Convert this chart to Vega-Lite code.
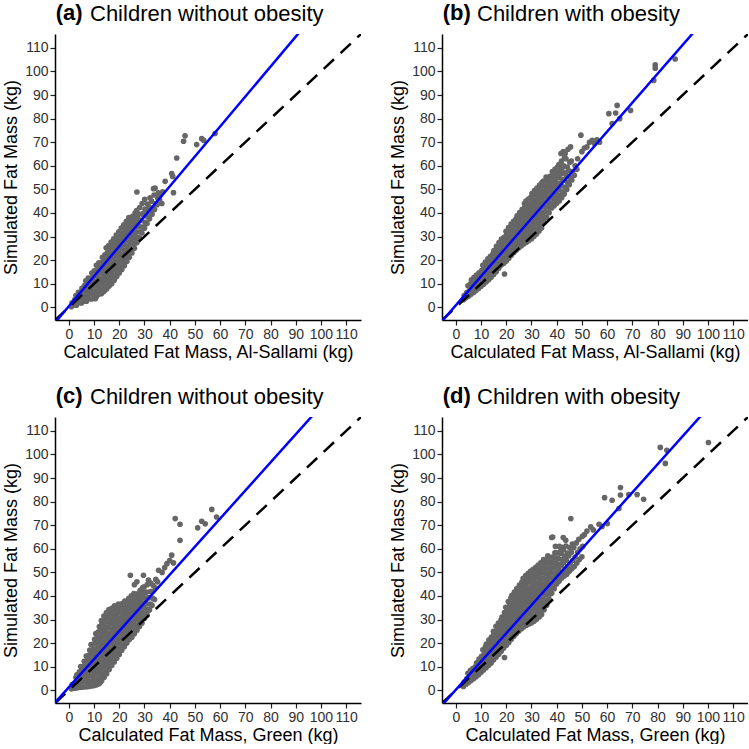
{
"$schema":"https://vega.github.io/schema/vega-lite/v6.json",
"background":"white",
"padding":{"left":2,"top":2,"right":0,"bottom":0},
"spacing":24,
"datasets":{
"idl":[{"x":-5.5,"y":-5.5},{"x":115.9,"y":115.9}],
"ra":[{"x":-5.5,"y":-6.54},{"x":100,"y":127.45}],
"rb":[{"x":-5.5,"y":-5.89},{"x":100,"y":123.56}],
"rc":[{"x":-5.5,"y":-5.28},{"x":100,"y":120.48}],
"rd":[{"x":-5.5,"y":-6.35},{"x":100,"y":119.72}],
"a":[
{"x":1,"y":0.2},{"x":1.3,"y":1.9},
{"x":2,"y":1.0},{"x":2.3,"y":3.2},
{"x":3,"y":0.9},{"x":3.3,"y":3.0},{"x":2.8,"y":5.0},
{"x":4,"y":1.9},{"x":4.3,"y":4.1},{"x":3.8,"y":6.3},
{"x":5,"y":1.8},{"x":5.3,"y":4.0},{"x":4.8,"y":6.2},{"x":5.2,"y":8.0},
{"x":6,"y":2.6},{"x":6.3,"y":4.8},{"x":5.8,"y":7.0},{"x":6.2,"y":9.2},
{"x":7,"y":2.6},{"x":7.3,"y":4.8},{"x":6.8,"y":7.0},{"x":7.2,"y":9.2},{"x":6.7,"y":11.2},
{"x":8,"y":3.6},{"x":8.3,"y":5.8},{"x":7.8,"y":8.0},{"x":8.2,"y":10.2},{"x":7.7,"y":12.4},
{"x":9,"y":3.5},{"x":9.3,"y":5.7},{"x":8.8,"y":7.9},{"x":9.2,"y":10.1},{"x":8.7,"y":12.3},{"x":9.1,"y":14.5},
{"x":10,"y":4.5},{"x":10.3,"y":6.7},{"x":9.8,"y":8.9},{"x":10.2,"y":11.1},{"x":9.7,"y":13.3},{"x":10.1,"y":15.5},{"x":10.5,"y":3.6},
{"x":11,"y":4.6},{"x":11.3,"y":6.8},{"x":10.8,"y":9.0},{"x":11.2,"y":11.2},{"x":10.7,"y":13.4},{"x":11.1,"y":15.6},{"x":10.9,"y":17.8},
{"x":12,"y":5.6},{"x":12.3,"y":7.8},{"x":11.8,"y":10.0},{"x":12.2,"y":12.2},{"x":11.7,"y":14.4},{"x":12.1,"y":16.6},{"x":11.9,"y":18.8},
{"x":13,"y":5.8},{"x":13.3,"y":8.0},{"x":12.8,"y":10.2},{"x":13.2,"y":12.4},{"x":12.7,"y":14.6},{"x":13.1,"y":16.8},{"x":12.9,"y":19.0},{"x":13.3,"y":21.2},
{"x":14,"y":6.8},{"x":14.3,"y":9.0},{"x":13.8,"y":11.2},{"x":14.2,"y":13.4},{"x":13.7,"y":15.6},{"x":14.1,"y":17.8},{"x":13.9,"y":20.0},{"x":14.3,"y":22.2},
{"x":15,"y":7.8},{"x":15.3,"y":10.0},{"x":14.8,"y":12.2},{"x":15.2,"y":14.4},{"x":14.7,"y":16.6},{"x":15.1,"y":18.8},{"x":14.9,"y":21.0},{"x":15.3,"y":23.2},{"x":14.8,"y":25.2},
{"x":16,"y":9.0},{"x":16.3,"y":11.2},{"x":15.8,"y":13.4},{"x":16.2,"y":15.6},{"x":15.7,"y":17.8},{"x":16.1,"y":20.0},{"x":15.9,"y":22.2},{"x":16.3,"y":24.4},{"x":15.8,"y":26.2},
{"x":17,"y":10.0},{"x":17.3,"y":12.2},{"x":16.8,"y":14.4},{"x":17.2,"y":16.6},{"x":16.7,"y":18.8},{"x":17.1,"y":21.0},{"x":16.9,"y":23.2},{"x":17.3,"y":25.4},{"x":16.8,"y":27.6},
{"x":18,"y":11.5},{"x":18.3,"y":13.7},{"x":17.8,"y":15.9},{"x":18.2,"y":18.1},{"x":17.7,"y":20.3},{"x":18.1,"y":22.5},{"x":17.9,"y":24.7},{"x":18.3,"y":26.9},{"x":17.8,"y":29.0},
{"x":19,"y":13.0},{"x":19.3,"y":15.2},{"x":18.8,"y":17.4},{"x":19.2,"y":19.6},{"x":18.7,"y":21.8},{"x":19.1,"y":24.0},{"x":18.9,"y":26.2},{"x":19.3,"y":28.4},{"x":18.8,"y":30.6},
{"x":20,"y":14.5},{"x":20.3,"y":16.7},{"x":19.8,"y":18.9},{"x":20.2,"y":21.1},{"x":19.7,"y":23.3},{"x":20.1,"y":25.5},{"x":19.9,"y":27.7},{"x":20.3,"y":29.9},{"x":19.8,"y":32.0},
{"x":21,"y":16.0},{"x":21.3,"y":18.2},{"x":20.8,"y":20.4},{"x":21.2,"y":22.6},{"x":20.7,"y":24.8},{"x":21.1,"y":27.0},{"x":20.9,"y":29.2},{"x":21.3,"y":31.4},{"x":20.8,"y":33.6},
{"x":22,"y":17.6},{"x":22.3,"y":19.8},{"x":21.8,"y":22.0},{"x":22.2,"y":24.2},{"x":21.7,"y":26.4},{"x":22.1,"y":28.6},{"x":21.9,"y":30.8},{"x":22.3,"y":33.0},{"x":21.8,"y":35.0},
{"x":23,"y":19.4},{"x":23.3,"y":21.6},{"x":22.8,"y":23.8},{"x":23.2,"y":26.0},{"x":22.7,"y":28.2},{"x":23.1,"y":30.4},{"x":22.9,"y":32.6},{"x":23.3,"y":34.8},{"x":22.8,"y":36.5},
{"x":24,"y":21.2},{"x":24.3,"y":23.4},{"x":23.8,"y":25.6},{"x":24.2,"y":27.8},{"x":23.7,"y":30.0},{"x":24.1,"y":32.2},{"x":23.9,"y":34.4},{"x":24.3,"y":36.6},{"x":23.8,"y":38.0},
{"x":25,"y":23.0},{"x":25.3,"y":25.2},{"x":24.8,"y":27.4},{"x":25.2,"y":29.6},{"x":24.7,"y":31.8},{"x":25.1,"y":34.0},{"x":24.9,"y":36.2},{"x":25.3,"y":38.6},
{"x":26,"y":25.0},{"x":26.3,"y":27.2},{"x":25.8,"y":29.4},{"x":26.2,"y":31.6},{"x":25.7,"y":33.8},{"x":26.1,"y":36.0},{"x":25.9,"y":38.2},{"x":26.3,"y":40.0},
{"x":27,"y":27.5},{"x":27.3,"y":29.7},{"x":26.8,"y":31.9},{"x":27.2,"y":34.1},{"x":26.7,"y":36.3},{"x":27.1,"y":38.5},{"x":26.9,"y":41.0},{"x":27,"y":48.9},
{"x":28,"y":29.5},{"x":28.3,"y":32.0},{"x":27.8,"y":34.5},{"x":28.2,"y":37.0},{"x":27.7,"y":39.5},{"x":28.1,"y":42.3},
{"x":29,"y":31.5},{"x":29.3,"y":34.0},{"x":28.8,"y":36.8},{"x":29.2,"y":39.6},{"x":29.1,"y":44.0},
{"x":30,"y":33.5},{"x":30.3,"y":36.0},{"x":29.8,"y":38.8},{"x":30.2,"y":41.6},{"x":30.1,"y":45.8},
{"x":31,"y":35.5},{"x":31.3,"y":38.4},{"x":30.8,"y":41.2},{"x":31.2,"y":43.8},
{"x":32,"y":37.5},{"x":32.3,"y":40.5},{"x":31.8,"y":42.6},{"x":32.2,"y":46.4},
{"x":33,"y":39.5},{"x":33.3,"y":42.0},{"x":32.8,"y":45.0},{"x":33.6,"y":50.3},
{"x":34,"y":41.5},{"x":34.3,"y":44.0},{"x":33.8,"y":47.6},{"x":34.2,"y":50.5},
{"x":35,"y":43.5},{"x":35.3,"y":46.2},{"x":35.5,"y":48.5},
{"x":36,"y":45.5},{"x":36.2,"y":47.5},{"x":36.9,"y":44},{"x":37.2,"y":49},
{"x":38.2,"y":53.4},{"x":40.8,"y":56.7},{"x":41.2,"y":55.5},{"x":41.5,"y":48.6},{"x":42.8,"y":63.3},{"x":45.5,"y":70.4},{"x":46.1,"y":72.7},{"x":50.7,"y":69},{"x":52.7,"y":71.5},{"x":53.5,"y":70.8},{"x":58,"y":73.7}
],
"b":[
{"x":3,"y":3.2},{"x":3.3,"y":5.0},
{"x":4,"y":4.0},{"x":4.3,"y":6.2},
{"x":5,"y":4.7},{"x":5.3,"y":6.9},{"x":4.8,"y":9.1},
{"x":6,"y":5.5},{"x":6.3,"y":7.7},{"x":5.8,"y":9.9},{"x":6.2,"y":11.6},
{"x":7,"y":6.3},{"x":7.3,"y":8.5},{"x":6.8,"y":10.7},{"x":7.2,"y":12.7},
{"x":8,"y":7.1},{"x":8.3,"y":9.3},{"x":7.8,"y":11.5},{"x":8.2,"y":13.7},
{"x":9,"y":8.0},{"x":9.3,"y":10.2},{"x":8.8,"y":12.4},{"x":9.2,"y":14.6},
{"x":10,"y":8.9},{"x":10.3,"y":11.1},{"x":9.8,"y":13.3},{"x":10.2,"y":15.6},
{"x":11,"y":9.8},{"x":11.3,"y":12.0},{"x":10.8,"y":14.2},{"x":11.2,"y":16.4},{"x":10.7,"y":17.8},
{"x":12,"y":10.7},{"x":12.3,"y":12.9},{"x":11.8,"y":15.1},{"x":12.2,"y":17.3},{"x":11.7,"y":19.2},
{"x":13,"y":11.7},{"x":13.3,"y":13.9},{"x":12.8,"y":16.1},{"x":13.2,"y":18.3},{"x":12.7,"y":20.5},
{"x":14,"y":12.7},{"x":14.3,"y":14.9},{"x":13.8,"y":17.1},{"x":14.2,"y":19.3},{"x":13.7,"y":21.6},
{"x":15,"y":13.9},{"x":15.3,"y":16.1},{"x":14.8,"y":18.3},{"x":15.2,"y":20.5},{"x":14.7,"y":22.7},{"x":15.1,"y":24.0},
{"x":16,"y":15.1},{"x":16.3,"y":17.3},{"x":15.8,"y":19.5},{"x":16.2,"y":21.7},{"x":15.7,"y":23.9},{"x":16.1,"y":25.8},
{"x":17,"y":16.5},{"x":17.3,"y":18.7},{"x":16.8,"y":20.9},{"x":17.2,"y":23.1},{"x":16.7,"y":25.3},{"x":17.1,"y":27.4},
{"x":18,"y":17.9},{"x":18.3,"y":20.1},{"x":17.8,"y":22.3},{"x":18.2,"y":24.5},{"x":17.7,"y":26.7},{"x":18.1,"y":28.9},
{"x":19,"y":18.7},{"x":19.3,"y":20.9},{"x":18.8,"y":23.1},{"x":19.2,"y":25.3},{"x":18.7,"y":27.5},{"x":19.1,"y":29.7},{"x":19.3,"y":14.1},
{"x":20,"y":19.6},{"x":20.3,"y":21.8},{"x":19.8,"y":24.0},{"x":20.2,"y":26.2},{"x":19.7,"y":28.4},{"x":20.1,"y":30.6},{"x":19.9,"y":32.2},
{"x":21,"y":20.8},{"x":21.3,"y":23.0},{"x":20.8,"y":25.2},{"x":21.2,"y":27.4},{"x":20.7,"y":29.6},{"x":21.1,"y":31.8},{"x":20.9,"y":33.8},
{"x":22,"y":22.1},{"x":22.3,"y":24.3},{"x":21.8,"y":26.5},{"x":22.2,"y":28.7},{"x":21.7,"y":30.9},{"x":22.1,"y":33.1},{"x":21.9,"y":35.3},
{"x":23,"y":23.2},{"x":23.3,"y":25.4},{"x":22.8,"y":27.6},{"x":23.2,"y":29.8},{"x":22.7,"y":32.0},{"x":23.1,"y":34.2},{"x":22.9,"y":36.4},
{"x":24,"y":24.3},{"x":24.3,"y":26.5},{"x":23.8,"y":28.7},{"x":24.2,"y":30.9},{"x":23.7,"y":33.1},{"x":24.1,"y":35.3},{"x":23.9,"y":37.5},{"x":24.3,"y":38.8},
{"x":25,"y":25.2},{"x":25.3,"y":27.4},{"x":24.8,"y":29.6},{"x":25.2,"y":31.8},{"x":24.7,"y":34.0},{"x":25.1,"y":36.2},{"x":24.9,"y":38.4},{"x":25.3,"y":40.2},
{"x":26,"y":26.1},{"x":26.3,"y":28.3},{"x":25.8,"y":30.5},{"x":26.2,"y":32.7},{"x":25.7,"y":34.9},{"x":26.1,"y":37.1},{"x":25.9,"y":39.3},{"x":26.3,"y":41.5},
{"x":27,"y":26.9},{"x":27.3,"y":29.1},{"x":26.8,"y":31.3},{"x":27.2,"y":33.5},{"x":26.7,"y":35.7},{"x":27.1,"y":37.9},{"x":26.9,"y":40.1},{"x":27.3,"y":42.3},{"x":27.2,"y":44.0},
{"x":28,"y":27.6},{"x":28.3,"y":29.8},{"x":27.8,"y":32.0},{"x":28.2,"y":34.2},{"x":27.7,"y":36.4},{"x":28.1,"y":38.6},{"x":27.9,"y":40.8},{"x":28.3,"y":43.0},{"x":27.8,"y":45.0},
{"x":29,"y":28.3},{"x":29.3,"y":30.5},{"x":28.8,"y":32.7},{"x":29.2,"y":34.9},{"x":28.7,"y":37.1},{"x":29.1,"y":39.3},{"x":28.9,"y":41.5},{"x":29.3,"y":43.7},{"x":28.8,"y":45.9},
{"x":30,"y":29.1},{"x":30.3,"y":31.3},{"x":29.8,"y":33.5},{"x":30.2,"y":35.7},{"x":29.7,"y":37.9},{"x":30.1,"y":40.1},{"x":29.9,"y":42.3},{"x":30.3,"y":44.5},{"x":29.8,"y":46.7},{"x":30.2,"y":48.2},
{"x":31,"y":30.1},{"x":31.3,"y":32.3},{"x":30.8,"y":34.5},{"x":31.2,"y":36.7},{"x":30.7,"y":38.9},{"x":31.1,"y":41.1},{"x":30.9,"y":43.3},{"x":31.3,"y":45.5},{"x":30.8,"y":47.7},{"x":31.2,"y":49.5},
{"x":32,"y":31.1},{"x":32.3,"y":33.3},{"x":31.8,"y":35.5},{"x":32.2,"y":37.7},{"x":31.7,"y":39.9},{"x":32.1,"y":42.1},{"x":31.9,"y":44.3},{"x":32.3,"y":46.5},{"x":31.8,"y":48.7},{"x":32.2,"y":50.6},
{"x":33,"y":32.3},{"x":33.3,"y":34.5},{"x":32.8,"y":36.7},{"x":33.2,"y":38.9},{"x":32.7,"y":41.1},{"x":33.1,"y":43.3},{"x":32.9,"y":45.5},{"x":33.3,"y":47.7},{"x":32.8,"y":49.9},{"x":33.2,"y":51.8},
{"x":34,"y":33.6},{"x":34.3,"y":35.8},{"x":33.8,"y":38.0},{"x":34.2,"y":40.2},{"x":33.7,"y":42.4},{"x":34.1,"y":44.6},{"x":33.9,"y":46.8},{"x":34.3,"y":49.0},{"x":33.8,"y":51.2},{"x":34.2,"y":53.0},
{"x":35,"y":35.9},{"x":35.3,"y":38.1},{"x":34.8,"y":40.3},{"x":35.2,"y":42.5},{"x":34.7,"y":44.7},{"x":35.1,"y":46.9},{"x":34.9,"y":49.1},{"x":35.3,"y":51.3},{"x":34.8,"y":53.5},
{"x":36,"y":38.1},{"x":36.3,"y":40.3},{"x":35.8,"y":42.5},{"x":36.2,"y":44.7},{"x":35.7,"y":46.9},{"x":36.1,"y":49.1},{"x":35.9,"y":51.3},{"x":36.3,"y":53.5},{"x":35.8,"y":55.2},
{"x":37,"y":40.1},{"x":37.3,"y":42.3},{"x":36.8,"y":44.5},{"x":37.2,"y":46.7},{"x":36.7,"y":48.9},{"x":37.1,"y":51.1},{"x":36.9,"y":53.3},{"x":37.3,"y":55.5},
{"x":38,"y":42.1},{"x":38.3,"y":44.3},{"x":37.8,"y":46.5},{"x":38.2,"y":48.7},{"x":37.7,"y":50.9},{"x":38.1,"y":53.1},{"x":37.9,"y":55.3},{"x":38.3,"y":57.5},
{"x":39,"y":43.1},{"x":39.3,"y":45.3},{"x":38.8,"y":47.5},{"x":39.2,"y":49.7},{"x":38.7,"y":51.9},{"x":39.1,"y":54.1},{"x":38.9,"y":56.3},{"x":39.3,"y":58.5},
{"x":40,"y":44.1},{"x":40.3,"y":46.3},{"x":39.8,"y":48.5},{"x":40.2,"y":50.7},{"x":39.7,"y":52.9},{"x":40.1,"y":55.1},{"x":39.9,"y":57.3},{"x":40.3,"y":59.5},
{"x":41,"y":45.1},{"x":41.3,"y":47.5},{"x":40.8,"y":50.0},{"x":41.2,"y":52.5},{"x":40.7,"y":55.0},{"x":41.1,"y":57.5},{"x":40.9,"y":60.5},{"x":41.7,"y":65.2},
{"x":42,"y":46.5},{"x":42.3,"y":49.0},{"x":41.8,"y":51.5},{"x":42.2,"y":54.0},{"x":41.7,"y":56.5},{"x":42.1,"y":59.0},{"x":41.9,"y":62.0},{"x":42.6,"y":66.0},
{"x":43,"y":48.0},{"x":43.3,"y":51.0},{"x":42.8,"y":54.0},{"x":43.2,"y":57.0},{"x":42.7,"y":60.0},{"x":43.1,"y":63.5},{"x":43.4,"y":65.2},
{"x":44,"y":50.0},{"x":44.3,"y":53.0},{"x":43.8,"y":56.0},{"x":44.2,"y":59.5},{"x":43.7,"y":63.0},{"x":44.5,"y":67.0},
{"x":45,"y":52.0},{"x":45.3,"y":55.0},{"x":44.8,"y":58.0},{"x":45.2,"y":61.5},{"x":45.5,"y":68.0},
{"x":46,"y":54.0},{"x":46.3,"y":57.5},{"x":45.8,"y":62.0},
{"x":47,"y":56.0},{"x":47.3,"y":60.0},{"x":48,"y":58.5},{"x":48.3,"y":63.0},
{"x":49.6,"y":73},{"x":50,"y":66},{"x":51,"y":67.5},{"x":52,"y":68},{"x":53,"y":70},{"x":54.1,"y":70.8},{"x":55,"y":69.5},{"x":56,"y":71},{"x":57,"y":70},{"x":60.7,"y":82.1},{"x":62,"y":77.9},{"x":63.4,"y":82.4},{"x":64,"y":85.6},{"x":65,"y":80},{"x":69.3,"y":83.5},{"x":78.5,"y":96.2},{"x":79.1,"y":101.4},{"x":79.1,"y":102.8},{"x":87,"y":105.3}
],
"c":[
{"x":1,"y":0.6},{"x":1.3,"y":2.4},
{"x":2,"y":0.9},{"x":2.3,"y":3.1},
{"x":3,"y":1.0},{"x":3.3,"y":3.2},{"x":2.8,"y":5.4},{"x":3.2,"y":6.6},
{"x":4,"y":1.2},{"x":4.3,"y":3.4},{"x":3.8,"y":5.6},{"x":4.2,"y":7.8},
{"x":5,"y":1.3},{"x":5.3,"y":3.5},{"x":4.8,"y":5.7},{"x":5.2,"y":7.9},{"x":4.7,"y":10.1},
{"x":6,"y":1.4},{"x":6.3,"y":3.6},{"x":5.8,"y":5.8},{"x":6.2,"y":8.0},{"x":5.7,"y":10.2},{"x":6.1,"y":12.3},
{"x":7,"y":1.5},{"x":7.3,"y":3.7},{"x":6.8,"y":5.9},{"x":7.2,"y":8.1},{"x":6.7,"y":10.3},{"x":7.1,"y":12.5},{"x":6.9,"y":14.5},
{"x":8,"y":1.6},{"x":8.3,"y":3.8},{"x":7.8,"y":6.0},{"x":8.2,"y":8.2},{"x":7.7,"y":10.4},{"x":8.1,"y":12.6},{"x":7.9,"y":14.8},{"x":8.3,"y":17.0},
{"x":9,"y":1.8},{"x":9.3,"y":4.0},{"x":8.8,"y":6.2},{"x":9.2,"y":8.4},{"x":8.7,"y":10.6},{"x":9.1,"y":12.8},{"x":8.9,"y":15.0},{"x":9.3,"y":17.2},{"x":8.8,"y":19.4},
{"x":10,"y":2.0},{"x":10.3,"y":4.2},{"x":9.8,"y":6.4},{"x":10.2,"y":8.6},{"x":9.7,"y":10.8},{"x":10.1,"y":13.0},{"x":9.9,"y":15.2},{"x":10.3,"y":17.4},{"x":9.8,"y":19.6},{"x":10.2,"y":21.6},
{"x":11,"y":2.3},{"x":11.3,"y":4.5},{"x":10.8,"y":6.7},{"x":11.2,"y":8.9},{"x":10.7,"y":11.1},{"x":11.1,"y":13.3},{"x":10.9,"y":15.5},{"x":11.3,"y":17.7},{"x":10.8,"y":19.9},{"x":11.2,"y":22.1},{"x":10.7,"y":24.0},
{"x":12,"y":2.8},{"x":12.3,"y":5.0},{"x":11.8,"y":7.2},{"x":12.2,"y":9.4},{"x":11.7,"y":11.6},{"x":12.1,"y":13.8},{"x":11.9,"y":16.0},{"x":12.3,"y":18.2},{"x":11.8,"y":20.4},{"x":12.2,"y":22.6},{"x":11.7,"y":24.8},{"x":12.1,"y":27.0},{"x":12.6,"y":3.5},
{"x":13,"y":4.0},{"x":13.3,"y":6.2},{"x":12.8,"y":8.4},{"x":13.2,"y":10.6},{"x":12.7,"y":12.8},{"x":13.1,"y":15.0},{"x":12.9,"y":17.2},{"x":13.3,"y":19.4},{"x":12.8,"y":21.6},{"x":13.2,"y":23.8},{"x":12.7,"y":26.0},{"x":13.1,"y":28.2},{"x":12.9,"y":29.6},
{"x":14,"y":5.5},{"x":14.3,"y":7.7},{"x":13.8,"y":9.9},{"x":14.2,"y":12.1},{"x":13.7,"y":14.3},{"x":14.1,"y":16.5},{"x":13.9,"y":18.7},{"x":14.3,"y":20.9},{"x":13.8,"y":23.1},{"x":14.2,"y":25.3},{"x":13.7,"y":27.5},{"x":14.1,"y":29.7},{"x":13.9,"y":31.5},
{"x":15,"y":7.0},{"x":15.3,"y":9.2},{"x":14.8,"y":11.4},{"x":15.2,"y":13.6},{"x":14.7,"y":15.8},{"x":15.1,"y":18.0},{"x":14.9,"y":20.2},{"x":15.3,"y":22.4},{"x":14.8,"y":24.6},{"x":15.2,"y":26.8},{"x":14.7,"y":29.0},{"x":15.1,"y":31.2},{"x":14.9,"y":33.0},
{"x":16,"y":8.8},{"x":16.3,"y":11.0},{"x":15.8,"y":13.2},{"x":16.2,"y":15.4},{"x":15.7,"y":17.6},{"x":16.1,"y":19.8},{"x":15.9,"y":22.0},{"x":16.3,"y":24.2},{"x":15.8,"y":26.4},{"x":16.2,"y":28.6},{"x":15.7,"y":30.8},{"x":16.1,"y":33.0},{"x":15.9,"y":34.2},
{"x":17,"y":10.5},{"x":17.3,"y":12.7},{"x":16.8,"y":14.9},{"x":17.2,"y":17.1},{"x":16.7,"y":19.3},{"x":17.1,"y":21.5},{"x":16.9,"y":23.7},{"x":17.3,"y":25.9},{"x":16.8,"y":28.1},{"x":17.2,"y":30.3},{"x":16.7,"y":32.5},{"x":17.1,"y":34.7},
{"x":18,"y":12.0},{"x":18.3,"y":14.2},{"x":17.8,"y":16.4},{"x":18.2,"y":18.6},{"x":17.7,"y":20.8},{"x":18.1,"y":23.0},{"x":17.9,"y":25.2},{"x":18.3,"y":27.4},{"x":17.8,"y":29.6},{"x":18.2,"y":31.8},{"x":17.7,"y":34.0},{"x":18.1,"y":35.8},
{"x":19,"y":13.6},{"x":19.3,"y":15.8},{"x":18.8,"y":18.0},{"x":19.2,"y":20.2},{"x":18.7,"y":22.4},{"x":19.1,"y":24.6},{"x":18.9,"y":26.8},{"x":19.3,"y":29.0},{"x":18.8,"y":31.2},{"x":19.2,"y":33.4},{"x":18.7,"y":35.6},
{"x":20,"y":15.2},{"x":20.3,"y":17.4},{"x":19.8,"y":19.6},{"x":20.2,"y":21.8},{"x":19.7,"y":24.0},{"x":20.1,"y":26.2},{"x":19.9,"y":28.4},{"x":20.3,"y":30.6},{"x":19.8,"y":32.8},{"x":20.2,"y":35.0},{"x":19.7,"y":36.6},
{"x":21,"y":17.0},{"x":21.3,"y":19.2},{"x":20.8,"y":21.4},{"x":21.2,"y":23.6},{"x":20.7,"y":25.8},{"x":21.1,"y":28.0},{"x":20.9,"y":30.2},{"x":21.3,"y":32.4},{"x":20.8,"y":34.6},{"x":21.2,"y":36.8},
{"x":22,"y":18.5},{"x":22.3,"y":20.7},{"x":21.8,"y":22.9},{"x":22.2,"y":25.1},{"x":21.7,"y":27.3},{"x":22.1,"y":29.5},{"x":21.9,"y":31.7},{"x":22.3,"y":33.9},{"x":21.8,"y":36.1},{"x":22.2,"y":37.8},
{"x":23,"y":20.0},{"x":23.3,"y":22.2},{"x":22.8,"y":24.4},{"x":23.2,"y":26.6},{"x":22.7,"y":28.8},{"x":23.1,"y":31.0},{"x":22.9,"y":33.2},{"x":23.3,"y":35.4},{"x":22.8,"y":37.6},
{"x":24,"y":21.5},{"x":24.3,"y":23.7},{"x":23.8,"y":25.9},{"x":24.2,"y":28.1},{"x":23.7,"y":30.3},{"x":24.1,"y":32.5},{"x":23.9,"y":34.7},{"x":24.3,"y":36.9},{"x":23.8,"y":39.0},{"x":24.4,"y":48.8},
{"x":25,"y":22.5},{"x":25.3,"y":24.7},{"x":24.8,"y":26.9},{"x":25.2,"y":29.1},{"x":24.7,"y":31.3},{"x":25.1,"y":33.5},{"x":24.9,"y":35.7},{"x":25.3,"y":37.9},{"x":24.8,"y":40.1},
{"x":26,"y":24.0},{"x":26.3,"y":26.2},{"x":25.8,"y":28.4},{"x":26.2,"y":30.6},{"x":25.7,"y":32.8},{"x":26.1,"y":35.0},{"x":25.9,"y":37.2},{"x":26.3,"y":39.4},{"x":25.8,"y":41.0},{"x":26,"y":44.8},
{"x":27,"y":25.5},{"x":27.3,"y":27.7},{"x":26.8,"y":29.9},{"x":27.2,"y":32.1},{"x":26.7,"y":34.3},{"x":27.1,"y":36.5},{"x":26.9,"y":38.7},{"x":27.3,"y":40.9},{"x":27,"y":46},
{"x":28,"y":27.0},{"x":28.3,"y":29.2},{"x":27.8,"y":31.4},{"x":28.2,"y":33.6},{"x":27.7,"y":35.8},{"x":28.1,"y":38.0},{"x":27.9,"y":40.2},{"x":28.3,"y":42.4},
{"x":29,"y":28.5},{"x":29.3,"y":30.7},{"x":28.8,"y":32.9},{"x":29.2,"y":35.1},{"x":28.7,"y":37.3},{"x":29.1,"y":39.5},{"x":28.9,"y":41.7},{"x":29.3,"y":43.6},{"x":29.6,"y":48.8},
{"x":30,"y":30.5},{"x":30.3,"y":32.7},{"x":29.8,"y":34.9},{"x":30.2,"y":37.1},{"x":29.7,"y":39.3},{"x":30.1,"y":41.5},{"x":29.9,"y":43.9},
{"x":31,"y":32.0},{"x":31.3,"y":34.4},{"x":30.8,"y":36.8},{"x":31.2,"y":39.2},{"x":30.7,"y":41.6},{"x":31.1,"y":44.8},{"x":31.6,"y":46.7},
{"x":32,"y":34.0},{"x":32.3,"y":36.6},{"x":31.8,"y":39.2},{"x":32.2,"y":41.8},{"x":32.5,"y":45.5},
{"x":33,"y":36.0},{"x":33.3,"y":39.0},{"x":32.8,"y":42.0},{"x":33.4,"y":44.5},
{"x":34,"y":38.5},{"x":34.3,"y":43.5},{"x":34.5,"y":47.0},
{"x":35.2,"y":46},{"x":35.6,"y":50.9},{"x":37,"y":50},{"x":38,"y":52},{"x":38.9,"y":53.7},{"x":40,"y":55},{"x":40.8,"y":57.3},{"x":41.5,"y":54},{"x":44.1,"y":63.6},{"x":42.2,"y":72.8},{"x":44.1,"y":70.4},{"x":51.1,"y":68.9},{"x":52.7,"y":71.7},{"x":54.1,"y":70.6},{"x":56.7,"y":76.7},{"x":58.6,"y":73.5}
],
"d":[
{"x":3,"y":1.6},{"x":3.3,"y":3.5},
{"x":4,"y":2.6},{"x":4.3,"y":4.8},
{"x":5,"y":3.3},{"x":5.3,"y":5.5},{"x":4.8,"y":7.2},
{"x":6,"y":4.1},{"x":6.3,"y":6.3},{"x":5.8,"y":8.5},
{"x":7,"y":4.9},{"x":7.3,"y":7.1},{"x":6.8,"y":9.3},
{"x":8,"y":5.7},{"x":8.3,"y":7.9},{"x":7.8,"y":10.1},{"x":8.2,"y":11.6},
{"x":9,"y":6.6},{"x":9.3,"y":8.8},{"x":8.8,"y":11.0},{"x":9.2,"y":13.2},
{"x":10,"y":7.6},{"x":10.3,"y":9.8},{"x":9.8,"y":12.0},{"x":10.2,"y":14.4},
{"x":11,"y":8.6},{"x":11.3,"y":10.8},{"x":10.8,"y":13.0},{"x":11.2,"y":15.2},{"x":10.7,"y":17.2},
{"x":12,"y":9.6},{"x":12.3,"y":11.8},{"x":11.8,"y":14.0},{"x":12.2,"y":16.2},{"x":11.7,"y":18.4},{"x":12.1,"y":19.6},
{"x":13,"y":10.6},{"x":13.3,"y":12.8},{"x":12.8,"y":15.0},{"x":13.2,"y":17.2},{"x":12.7,"y":19.4},{"x":13.1,"y":21.3},
{"x":14,"y":11.6},{"x":14.3,"y":13.8},{"x":13.8,"y":16.0},{"x":14.2,"y":18.2},{"x":13.7,"y":20.4},{"x":14.1,"y":22.6},
{"x":15,"y":12.9},{"x":15.3,"y":15.1},{"x":14.8,"y":17.3},{"x":15.2,"y":19.5},{"x":14.7,"y":21.7},{"x":15.1,"y":23.9},{"x":14.9,"y":25.0},
{"x":16,"y":14.1},{"x":16.3,"y":16.3},{"x":15.8,"y":18.5},{"x":16.2,"y":20.7},{"x":15.7,"y":22.9},{"x":16.1,"y":25.1},{"x":15.9,"y":27.1},
{"x":17,"y":15.3},{"x":17.3,"y":17.5},{"x":16.8,"y":19.7},{"x":17.2,"y":21.9},{"x":16.7,"y":24.1},{"x":17.1,"y":26.3},{"x":16.9,"y":28.5},
{"x":18,"y":16.6},{"x":18.3,"y":18.8},{"x":17.8,"y":21.0},{"x":18.2,"y":23.2},{"x":17.7,"y":25.4},{"x":18.1,"y":27.6},{"x":17.9,"y":29.8},{"x":18.3,"y":31.0},
{"x":19,"y":17.9},{"x":19.3,"y":20.1},{"x":18.8,"y":22.3},{"x":19.2,"y":24.5},{"x":18.7,"y":26.7},{"x":19.1,"y":28.9},{"x":18.9,"y":31.1},{"x":19.3,"y":33.0},{"x":19.3,"y":13.9},
{"x":20,"y":19.1},{"x":20.3,"y":21.3},{"x":19.8,"y":23.5},{"x":20.2,"y":25.7},{"x":19.7,"y":27.9},{"x":20.1,"y":30.1},{"x":19.9,"y":32.3},{"x":20.3,"y":34.5},{"x":19.8,"y":35.2},
{"x":21,"y":20.3},{"x":21.3,"y":22.5},{"x":20.8,"y":24.7},{"x":21.2,"y":26.9},{"x":20.7,"y":29.1},{"x":21.1,"y":31.3},{"x":20.9,"y":33.5},{"x":21.3,"y":35.7},{"x":20.8,"y":37.6},
{"x":22,"y":21.6},{"x":22.3,"y":23.8},{"x":21.8,"y":26.0},{"x":22.2,"y":28.2},{"x":21.7,"y":30.4},{"x":22.1,"y":32.6},{"x":21.9,"y":34.8},{"x":22.3,"y":37.0},{"x":21.8,"y":39.2},{"x":22.2,"y":40.2},
{"x":23,"y":22.9},{"x":23.3,"y":25.1},{"x":22.8,"y":27.3},{"x":23.2,"y":29.5},{"x":22.7,"y":31.7},{"x":23.1,"y":33.9},{"x":22.9,"y":36.1},{"x":23.3,"y":38.3},{"x":22.8,"y":40.5},{"x":23.2,"y":41.6},
{"x":24,"y":24.1},{"x":24.3,"y":26.3},{"x":23.8,"y":28.5},{"x":24.2,"y":30.7},{"x":23.7,"y":32.9},{"x":24.1,"y":35.1},{"x":23.9,"y":37.3},{"x":24.3,"y":39.5},{"x":23.8,"y":41.7},{"x":24.2,"y":43.1},
{"x":25,"y":25.1},{"x":25.3,"y":27.3},{"x":24.8,"y":29.5},{"x":25.2,"y":31.7},{"x":24.7,"y":33.9},{"x":25.1,"y":36.1},{"x":24.9,"y":38.3},{"x":25.3,"y":40.5},{"x":24.8,"y":42.7},{"x":25.2,"y":44.6},
{"x":26,"y":26.1},{"x":26.3,"y":28.3},{"x":25.8,"y":30.5},{"x":26.2,"y":32.7},{"x":25.7,"y":34.9},{"x":26.1,"y":37.1},{"x":25.9,"y":39.3},{"x":26.3,"y":41.5},{"x":25.8,"y":43.7},{"x":26.2,"y":45.9},
{"x":27,"y":26.9},{"x":27.3,"y":29.1},{"x":26.8,"y":31.3},{"x":27.2,"y":33.5},{"x":26.7,"y":35.7},{"x":27.1,"y":37.9},{"x":26.9,"y":40.1},{"x":27.3,"y":42.3},{"x":26.8,"y":44.5},{"x":27.2,"y":46.7},{"x":26.7,"y":47.5},
{"x":28,"y":27.6},{"x":28.3,"y":29.8},{"x":27.8,"y":32.0},{"x":28.2,"y":34.2},{"x":27.7,"y":36.4},{"x":28.1,"y":38.6},{"x":27.9,"y":40.8},{"x":28.3,"y":43.0},{"x":27.8,"y":45.2},{"x":28.2,"y":47.4},{"x":27.7,"y":48.6},
{"x":29,"y":28.1},{"x":29.3,"y":30.3},{"x":28.8,"y":32.5},{"x":29.2,"y":34.7},{"x":28.7,"y":36.9},{"x":29.1,"y":39.1},{"x":28.9,"y":41.3},{"x":29.3,"y":43.5},{"x":28.8,"y":45.7},{"x":29.2,"y":47.9},{"x":28.7,"y":49.6},
{"x":30,"y":28.6},{"x":30.3,"y":30.8},{"x":29.8,"y":33.0},{"x":30.2,"y":35.2},{"x":29.7,"y":37.4},{"x":30.1,"y":39.6},{"x":29.9,"y":41.8},{"x":30.3,"y":44.0},{"x":29.8,"y":46.2},{"x":30.2,"y":48.4},{"x":29.7,"y":50.6},
{"x":31,"y":29.3},{"x":31.3,"y":31.5},{"x":30.8,"y":33.7},{"x":31.2,"y":35.9},{"x":30.7,"y":38.1},{"x":31.1,"y":40.3},{"x":30.9,"y":42.5},{"x":31.3,"y":44.7},{"x":30.8,"y":46.9},{"x":31.2,"y":49.1},{"x":30.7,"y":51.3},
{"x":32,"y":30.1},{"x":32.3,"y":32.3},{"x":31.8,"y":34.5},{"x":32.2,"y":36.7},{"x":31.7,"y":38.9},{"x":32.1,"y":41.1},{"x":31.9,"y":43.3},{"x":32.3,"y":45.5},{"x":31.8,"y":47.7},{"x":32.2,"y":49.9},{"x":31.7,"y":52.1},
{"x":33,"y":31.1},{"x":33.3,"y":33.3},{"x":32.8,"y":35.5},{"x":33.2,"y":37.7},{"x":32.7,"y":39.9},{"x":33.1,"y":42.1},{"x":32.9,"y":44.3},{"x":33.3,"y":46.5},{"x":32.8,"y":48.7},{"x":33.2,"y":50.9},{"x":32.7,"y":53.1},
{"x":34,"y":32.1},{"x":34.3,"y":34.3},{"x":33.8,"y":36.5},{"x":34.2,"y":38.7},{"x":33.7,"y":40.9},{"x":34.1,"y":43.1},{"x":33.9,"y":45.3},{"x":34.3,"y":47.5},{"x":33.8,"y":49.7},{"x":34.2,"y":51.9},{"x":33.7,"y":54.1},{"x":34.8,"y":55.4},
{"x":35,"y":34.1},{"x":35.3,"y":36.3},{"x":34.8,"y":38.5},{"x":35.2,"y":40.7},{"x":34.7,"y":42.9},{"x":35.1,"y":45.1},{"x":34.9,"y":47.3},{"x":35.3,"y":49.5},{"x":34.8,"y":51.7},{"x":35.2,"y":53.9},
{"x":36,"y":36.1},{"x":36.3,"y":38.3},{"x":35.8,"y":40.5},{"x":36.2,"y":42.7},{"x":35.7,"y":44.9},{"x":36.1,"y":47.1},{"x":35.9,"y":49.3},{"x":36.3,"y":51.5},{"x":35.8,"y":53.7},{"x":36.2,"y":55.9},{"x":36.5,"y":57},
{"x":37,"y":38.6},{"x":37.3,"y":40.8},{"x":36.8,"y":43.0},{"x":37.2,"y":45.2},{"x":36.7,"y":47.4},{"x":37.1,"y":49.6},{"x":36.9,"y":51.8},{"x":37.3,"y":54.0},{"x":36.8,"y":56.2},
{"x":38,"y":41.1},{"x":38.3,"y":43.3},{"x":37.8,"y":45.5},{"x":38.2,"y":47.7},{"x":37.7,"y":49.9},{"x":38.1,"y":52.1},{"x":37.9,"y":54.3},{"x":38.3,"y":56.5},{"x":38,"y":64.8},{"x":38.4,"y":65.0},
{"x":39,"y":43.1},{"x":39.3,"y":45.3},{"x":38.8,"y":47.5},{"x":39.2,"y":49.7},{"x":38.7,"y":51.9},{"x":39.1,"y":54.1},{"x":38.9,"y":56.3},{"x":39.3,"y":58.3},{"x":39.5,"y":61},
{"x":40,"y":45.1},{"x":40.3,"y":47.3},{"x":39.8,"y":49.5},{"x":40.2,"y":51.7},{"x":39.7,"y":53.9},{"x":40.1,"y":56.1},{"x":39.9,"y":58.3},
{"x":41,"y":46.3},{"x":41.3,"y":48.7},{"x":40.8,"y":51.1},{"x":41.2,"y":53.5},{"x":40.7,"y":55.9},{"x":41.1,"y":58.3},{"x":41.7,"y":59.1},{"x":41,"y":61},
{"x":42,"y":47.6},{"x":42.3,"y":50.2},{"x":41.8,"y":52.8},{"x":42.2,"y":55.4},{"x":41.7,"y":58.0},{"x":42.1,"y":60.6},{"x":42.6,"y":64.8},
{"x":43,"y":48.5},{"x":43.3,"y":51.3},{"x":42.8,"y":54.1},{"x":43.2,"y":56.9},{"x":42.7,"y":59.7},{"x":43.6,"y":63.6},
{"x":44,"y":49.2},{"x":44.3,"y":52.2},{"x":43.8,"y":55.2},{"x":44.2,"y":58.2},{"x":43.7,"y":61.2},
{"x":45,"y":50.5},{"x":45.3,"y":53.8},{"x":44.8,"y":57.1},{"x":45.2,"y":60.4},{"x":45.6,"y":72.8},
{"x":46,"y":51.5},{"x":46.3,"y":55.0},{"x":45.8,"y":58.5},{"x":46.2,"y":62.0},
{"x":47,"y":52.5},{"x":47.3,"y":56.5},{"x":46.8,"y":60.5},
{"x":48,"y":54.0},{"x":48.3,"y":58.5},{"x":47.8,"y":62.5},
{"x":49,"y":55.5},{"x":49.3,"y":60.0},{"x":48.8,"y":64.0},
{"x":50,"y":56.6},{"x":50.3,"y":61.0},{"x":50.2,"y":65.3},
{"x":51,"y":66},{"x":52,"y":67.5},{"x":53.5,"y":69.3},{"x":54.5,"y":68},{"x":56.8,"y":70.4},{"x":58,"y":69.5},{"x":60.1,"y":70.7},{"x":59,"y":81.7},{"x":62,"y":80.6},{"x":65.3,"y":86},{"x":65.3,"y":82.8},{"x":64.7,"y":77.1},{"x":68.6,"y":83},{"x":71.9,"y":83},{"x":74.5,"y":81},{"x":81.1,"y":103},{"x":83.7,"y":101.8},{"x":83.1,"y":96.2},{"x":100.2,"y":105.1}
]
},
"vconcat":[
{"hconcat":[
{"title":{"text":"(a)","fontWeight":"bold","frame":"bounds","anchor":"start","offset":-22,"dx":53},"vconcat":[
{"width":306,"height":286,"title":{"text":"Children without obesity","dx":35},
"encoding":{"x":{"field":"x","type":"quantitative","scale":{"domain":[-5.5,115.9],"nice":false,"zero":false},"axis":{"values":[0,10,20,30,40,50,60,70,80,90,100,110],"title":"Calculated Fat Mass, Al-Sallami (kg)"}},"y":{"field":"y","type":"quantitative","scale":{"domain":[-5.4,115.9],"nice":false,"zero":false},"axis":{"values":[0,10,20,30,40,50,60,70,80,90,100,110],"title":"Simulated Fat Mass (kg)"}}},
"layer":[
{"data":{"name":"a"},"mark":{"type":"circle","size":32,"color":"#666666","opacity":1}},
{"data":{"name":"idl"},"mark":{"type":"line","color":"black","strokeWidth":2.5,"strokeDash":[14,9],"clip":true}},
{"data":{"name":"ra"},"mark":{"type":"line","color":"#0000ff","strokeWidth":2.5,"clip":true}}
]}]},
{"title":{"text":"(b)","fontWeight":"bold","frame":"bounds","anchor":"start","offset":-22,"dx":53},"vconcat":[
{"width":306,"height":286,"title":{"text":"Children with obesity","dx":35},
"encoding":{"x":{"field":"x","type":"quantitative","scale":{"domain":[-5.5,115.9],"nice":false,"zero":false},"axis":{"values":[0,10,20,30,40,50,60,70,80,90,100,110],"title":"Calculated Fat Mass, Al-Sallami (kg)"}},"y":{"field":"y","type":"quantitative","scale":{"domain":[-5.4,115.9],"nice":false,"zero":false},"axis":{"values":[0,10,20,30,40,50,60,70,80,90,100,110],"title":"Simulated Fat Mass (kg)"}}},
"layer":[
{"data":{"name":"b"},"mark":{"type":"circle","size":32,"color":"#666666","opacity":1}},
{"data":{"name":"idl"},"mark":{"type":"line","color":"black","strokeWidth":2.5,"strokeDash":[14,9],"clip":true}},
{"data":{"name":"rb"},"mark":{"type":"line","color":"#0000ff","strokeWidth":2.5,"clip":true}}
]}]}
],"spacing":28},
{"hconcat":[
{"title":{"text":"(c)","fontWeight":"bold","frame":"bounds","anchor":"start","offset":-22,"dx":53},"vconcat":[
{"width":306,"height":286,"title":{"text":"Children without obesity","dx":35},
"encoding":{"x":{"field":"x","type":"quantitative","scale":{"domain":[-5.5,115.9],"nice":false,"zero":false},"axis":{"values":[0,10,20,30,40,50,60,70,80,90,100,110],"title":"Calculated Fat Mass, Green (kg)"}},"y":{"field":"y","type":"quantitative","scale":{"domain":[-5.4,115.9],"nice":false,"zero":false},"axis":{"values":[0,10,20,30,40,50,60,70,80,90,100,110],"title":"Simulated Fat Mass (kg)"}}},
"layer":[
{"data":{"name":"c"},"mark":{"type":"circle","size":32,"color":"#666666","opacity":1}},
{"data":{"name":"idl"},"mark":{"type":"line","color":"black","strokeWidth":2.5,"strokeDash":[14,9],"clip":true}},
{"data":{"name":"rc"},"mark":{"type":"line","color":"#0000ff","strokeWidth":2.5,"clip":true}}
]}]},
{"title":{"text":"(d)","fontWeight":"bold","frame":"bounds","anchor":"start","offset":-22,"dx":53},"vconcat":[
{"width":306,"height":286,"title":{"text":"Children with obesity","dx":35},
"encoding":{"x":{"field":"x","type":"quantitative","scale":{"domain":[-5.5,115.9],"nice":false,"zero":false},"axis":{"values":[0,10,20,30,40,50,60,70,80,90,100,110],"title":"Calculated Fat Mass, Green (kg)"}},"y":{"field":"y","type":"quantitative","scale":{"domain":[-5.4,115.9],"nice":false,"zero":false},"axis":{"values":[0,10,20,30,40,50,60,70,80,90,100,110],"title":"Simulated Fat Mass (kg)"}}},
"layer":[
{"data":{"name":"d"},"mark":{"type":"circle","size":32,"color":"#666666","opacity":1}},
{"data":{"name":"idl"},"mark":{"type":"line","color":"black","strokeWidth":2.5,"strokeDash":[14,9],"clip":true}},
{"data":{"name":"rd"},"mark":{"type":"line","color":"#0000ff","strokeWidth":2.5,"clip":true}}
]}]}
],"spacing":28}
],
"config":{
"view":{"stroke":null},
"title":{"anchor":"start","frame":"group","font":"Liberation Sans","fontSize":22,"fontWeight":"normal","color":"#000000","offset":8},
"axis":{"grid":false,"domainColor":"#000000","domainWidth":1.5,"tickColor":"#222222","tickWidth":1.2,"tickSize":5,"labelFont":"Liberation Sans","labelFontSize":14,"labelColor":"#303030","labelPadding":2,"titleFont":"Liberation Sans","titleFontSize":18,"titleFontWeight":"normal","titleColor":"#000000"},
"axisX":{"titlePadding":2}
}
}
